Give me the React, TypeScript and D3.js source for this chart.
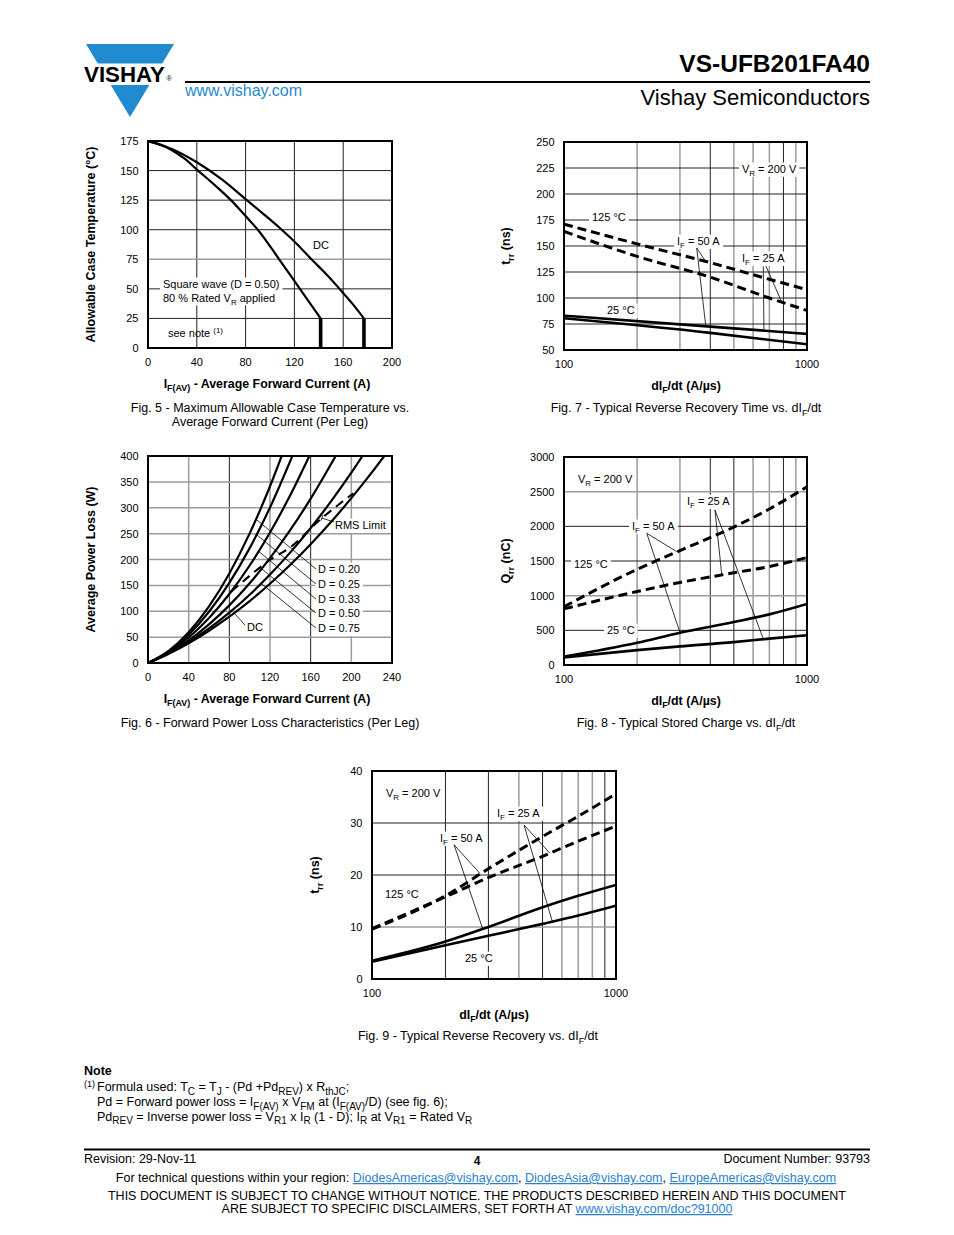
import React from 'react';
import * as d3 from 'd3';

type Pt = [number, number];
type Part = { t: string; sub?: boolean; sup?: boolean };

const FONT = "'Liberation Sans', Arial, Helvetica, sans-serif";
const BLUE = '#1f8ad0';
const LINK = '#2a7fcf';

// ---------------- Fig. 5 data ----------------
const fig5XTicks = [0, 40, 80, 120, 160, 200];
const fig5YTicks = [0, 25, 50, 75, 100, 125, 150, 175];
const fig5SquareWave: Pt[] = [[0, 175], [10, 172], [20, 167], [30, 160], [41, 150], [55, 137.5], [68, 125], [80, 111.5], [90, 100], [107.5, 75], [124.5, 50], [141.5, 25]];
const fig5SquareWaveDrop: Pt[] = [[141.5, 25], [141.5, 0]];
const fig5DC: Pt[] = [[0, 175], [20, 168], [40, 157], [60, 143], [81, 125], [95, 113], [109.6, 100], [122, 88], [134, 75], [146, 62.5], [157, 50], [167.5, 37.5], [177, 25]];
const fig5DCDrop: Pt[] = [[177, 25], [177, 0]];

// ---------------- Fig. 6 data ----------------
const fig6XTicks = [0, 40, 80, 120, 160, 200, 240];
const fig6YTicks = [0, 50, 100, 150, 200, 250, 300, 350, 400];
const fig6D020: Pt[] = [[0, 0], [20, 22.8], [40, 59.3], [60, 109.4], [80, 173.1], [100, 250.5], [120, 341.5], [131.5, 400]];
const fig6D025: Pt[] = [[0, 0], [20, 21.7], [40, 54.7], [60, 99.1], [80, 154.9], [100, 222], [120, 300.5], [142, 400]];
const fig6D033: Pt[] = [[0, 0], [20, 20.3], [40, 49.3], [60, 87], [80, 133.4], [100, 188.4], [120, 252.1], [140, 324.5], [158.7, 400]];
const fig6D050: Pt[] = [[0, 0], [20, 19], [40, 43.8], [60, 74.7], [80, 111.4], [100, 154], [120, 202.6], [140, 257.1], [160, 317.5], [184.6, 400]];
const fig6D075: Pt[] = [[0, 0], [20, 18.1], [40, 40.3], [60, 66.7], [80, 97.2], [100, 131.9], [120, 170.8], [140, 213.8], [160, 260.9], [180, 312.3], [200, 367.7], [211, 400]];
const fig6DC: Pt[] = [[0, 0], [20, 17.6], [40, 38.3], [60, 62.3], [80, 89.4], [100, 119.6], [120, 153.1], [140, 189.7], [160, 229.5], [180, 272.4], [200, 318.6], [220, 367.9], [232.4, 400]];
const fig6RMSLimit: Pt[] = [[82, 138], [120, 199], [141, 225], [167, 273], [202, 328]];
const fig6DutyLabels = ['D = 0.20', 'D = 0.25', 'D = 0.33', 'D = 0.50', 'D = 0.75'];

// ---------------- Fig. 7 data ----------------
const fig7XTicks = [100, 1000];
const fig7YTicks = [50, 75, 100, 125, 150, 175, 200, 225, 250];
const fig7Hot50A: Pt[] = [[100, 171], [200, 152], [400, 134], [700, 118], [1000, 108]];
const fig7Hot25A: Pt[] = [[100, 164], [200, 140], [400, 120], [700, 100], [1000, 88]];
const fig7Room50A: Pt[] = [[100, 83], [400, 72.5], [1000, 65.5]];
const fig7Room25A: Pt[] = [[100, 80.5], [400, 66.5], [1000, 55.5]];

// ---------------- Fig. 8 data ----------------
const fig8XTicks = [100, 1000];
const fig8YTicks = [0, 500, 1000, 1500, 2000, 2500, 3000];
const fig8Hot50A: Pt[] = [[100, 840], [200, 1380], [300, 1650], [500, 1990], [700, 2250], [1000, 2570]];
const fig8Hot25A: Pt[] = [[100, 810], [200, 1060], [300, 1190], [500, 1330], [700, 1420], [1000, 1550]];
const fig8Room50A: Pt[] = [[100, 120], [200, 320], [300, 465], [500, 620], [700, 730], [1000, 880]];
const fig8Room25A: Pt[] = [[100, 110], [200, 215], [300, 268], [500, 330], [700, 380], [1000, 430]];

// ---------------- Fig. 9 data ----------------
const fig9XTicks = [100, 1000];
const fig9YTicks = [0, 10, 20, 30, 40];
const fig9Hot50A: Pt[] = [[100, 9.6], [200, 16], [300, 21.2], [500, 27.4], [700, 31.3], [1000, 35.6]];
const fig9Hot25A: Pt[] = [[100, 9.7], [200, 15.8], [300, 19.5], [500, 23.6], [700, 26.5], [1000, 29.4]];
const fig9Room50A: Pt[] = [[100, 3.5], [200, 7.2], [300, 10], [500, 13.8], [700, 16], [1000, 18.1]];
const fig9Room25A: Pt[] = [[100, 3.3], [200, 6.5], [300, 8.3], [500, 10.6], [700, 12.2], [1000, 14.1]];

const logMinor = [200, 300, 400, 500, 600, 700, 800, 900];

// ---------------- helpers ----------------
const T = (t: string): Part => ({ t });
const S = (t: string): Part => ({ t, sub: true });
const U = (t: string): Part => ({ t, sup: true });

let measureCtx: CanvasRenderingContext2D | null = null;
function measure(parts: Part[], size: number, weight = 'normal') {
  if (!measureCtx) measureCtx = document.createElement('canvas').getContext('2d');
  let w = 0;
  for (const p of parts) {
    const s = p.sub || p.sup ? size * 0.72 : size;
    measureCtx!.font = `${weight} ${s}px ${FONT}`;
    w += measureCtx!.measureText(p.t).width;
  }
  return w;
}

function RichText(props: {
  x: number; y: number; parts: Part[]; size: number; anchor?: string; weight?: string; fill?: string; rotate?: boolean; subScale?: number;
}) {
  const { x, y, parts, size, anchor = 'start', weight = 'normal', fill = '#000', rotate, subScale = 0.72 } = props;
  let off = 0;
  const kids = parts.map((p, i) => {
    const target = p.sub ? size * 0.28 : p.sup ? -size * 0.38 : 0;
    const dy = target - off;
    off = target;
    return (
      <tspan key={i} dy={dy} fontSize={p.sub || p.sup ? size * subScale : size}>{p.t}</tspan>
    );
  });
  return (
    <text x={x} y={y} fontSize={size} fontFamily={FONT} fontWeight={weight} textAnchor={anchor as any} fill={fill}
      style={{ whiteSpace: 'pre' }} transform={rotate ? `rotate(-90 ${x} ${y})` : undefined}>
      {kids}
    </text>
  );
}

interface SeriesDef { data: Pt[]; dashed?: boolean; width?: number; dash?: string; straight?: boolean }
interface LabelDef { x: number; y: number; parts: Part[]; bg?: boolean }
interface PlotProps {
  id: string;
  box: { x: number; y: number; w: number; h: number };
  log?: boolean;
  xDomain: [number, number]; yDomain: [number, number];
  xGrid: number[]; yGrid: number[];
  darkX?: number[]; darkY?: number[];
  xTicks: number[]; yTicks: number[];
  series: SeriesDef[];
  leaders?: Pt[][];
  labels?: LabelDef[];
  yTitle: Part[]; yTitleX: number;
  xTitle: Part[]; xTitleY: number; xTitleX: number;
  captions: { parts: Part[]; y: number }[]; captionX: number;
}

function Plot(p: PlotProps) {
  const { box } = p;
  const sx: any = p.log
    ? d3.scaleLog().domain(p.xDomain).range([box.x, box.x + box.w])
    : d3.scaleLinear().domain(p.xDomain).range([box.x, box.x + box.w]);
  const sy = d3.scaleLinear().domain(p.yDomain).range([box.y + box.h, box.y]);
  const smooth = d3.line<Pt>().x(d => sx(d[0])).y(d => sy(d[1])).curve(d3.curveMonotoneX);
  const straight = d3.line<Pt>().x(d => sx(d[0])).y(d => sy(d[1]));
  const LS = 11;
  const gridColor = (dark: boolean) => (dark ? '#222' : '#9c9c9c');
  return (
    <g>
      <defs>
        <clipPath id={`clip-${p.id}`}>
          <rect x={box.x} y={box.y} width={box.w} height={box.h} />
        </clipPath>
      </defs>
      {p.xGrid.map(v => {
        const dark = (p.darkX || []).includes(v);
        return <line key={`gx${v}`} x1={sx(v)} x2={sx(v)} y1={box.y} y2={box.y + box.h}
          stroke={gridColor(dark)} strokeWidth={dark ? 1 : 1.5} />;
      })}
      {p.yGrid.map(v => {
        const dark = (p.darkY || []).includes(v);
        return <line key={`gy${v}`} x1={box.x} x2={box.x + box.w} y1={sy(v)} y2={sy(v)}
          stroke={gridColor(dark)} strokeWidth={dark ? 1 : 1.5} />;
      })}
      {(p.labels || []).filter(l => l.bg).map((l, i) => {
        const w = measure(l.parts, LS);
        return <rect key={`bg${i}`} x={l.x - 3} y={l.y - LS * 0.95} width={w + 6} height={LS * 1.3} fill="#fff" />;
      })}
      <g clipPath={`url(#clip-${p.id})`}>
        {p.series.map((s, i) => (
          <path key={`s${i}`} d={(s.straight ? straight : smooth)(s.data) || ''} fill="none" stroke="#000"
            strokeWidth={s.width ?? 2.4} strokeDasharray={s.dashed ? (s.dash || '9,5') : undefined} />
        ))}
      </g>
      {(p.leaders || []).map((l, i) => (
        <path key={`l${i}`} d={straight(l) || ''} fill="none" stroke="#000" strokeWidth={0.8} />
      ))}
      {(p.labels || []).map((l, i) => (
        <RichText key={`t${i}`} x={l.x} y={l.y} parts={l.parts} size={LS} />
      ))}
      <rect x={box.x} y={box.y} width={box.w} height={box.h} fill="none" stroke="#000" strokeWidth={2} />
      {p.yTicks.map(v => (
        <text key={`yt${v}`} x={box.x - 9.5} y={sy(v) + 4} fontSize={LS} fontFamily={FONT} textAnchor="end">{v}</text>
      ))}
      {p.xTicks.map(v => (
        <text key={`xt${v}`} x={sx(v)} y={box.y + box.h + 18} fontSize={LS} fontFamily={FONT} textAnchor="middle">{v}</text>
      ))}
      <RichText x={p.yTitleX} y={box.y + box.h / 2} parts={p.yTitle} size={12.5} weight="bold" anchor="middle" rotate />
      <RichText x={p.xTitleX} y={p.xTitleY} parts={p.xTitle} size={12.4} weight="bold" anchor="middle" />
      {p.captions.map((c, i) => (
        <RichText key={`c${i}`} x={p.captionX} y={c.y} parts={c.parts} size={12.5} anchor="middle" />
      ))}
    </g>
  );
}

function Header() {
  return (
    <g>
      <polygon points="86,44 174,44 130,117" fill={BLUE} />
      <rect x={80} y={63.5} width={100} height={21.5} fill="#fff" />
      <text x={84} y={81.7} fontSize={21.5} fontWeight="bold" fontFamily={FONT} textLength={81} lengthAdjust="spacingAndGlyphs">VISHAY</text>
      <text x={166.5} y={81} fontSize={7} fontFamily={FONT}>®</text>
      <text x={185} y={96} fontSize={16} fontFamily={FONT} fill={BLUE}>www.vishay.com</text>
      <line x1={185} x2={870} y1={82} y2={82} stroke="#000" strokeWidth={2} />
      <text x={870} y={72} fontSize={24.5} fontWeight="bold" fontFamily={FONT} textAnchor="end">VS-UFB201FA40</text>
      <text x={870} y={105} fontSize={22} fontFamily={FONT} textAnchor="end">Vishay Semiconductors</text>
    </g>
  );
}

function Notes() {
  const sz = 12.5;
  return (
    <g>
      <text x={84} y={1075} fontSize={12.5} fontWeight="bold" fontFamily={FONT}>Note</text>
      <text x={84} y={1087} fontSize={9} fontFamily={FONT}>(1)</text>
      <RichText x={97} y={1091} size={sz} subScale={0.8}
        parts={[T('Formula used: T'), S('C'), T(' = T'), S('J'), T(' - (Pd +Pd'), S('REV'), T(') x R'), S('thJC'), T(';')]} />
      <RichText x={97} y={1106} size={sz} subScale={0.8}
        parts={[T('Pd = Forward power loss = I'), S('F(AV)'), T(' x V'), S('FM'), T(' at (I'), S('F(AV)'), T('/D) (see fig. 6);')]} />
      <RichText x={97} y={1120.5} size={sz} subScale={0.8}
        parts={[T('Pd'), S('REV'), T(' = Inverse power loss = V'), S('R1'), T(' x I'), S('R'), T(' (1 - D); I'), S('R'), T(' at V'), S('R1'), T(' = Rated V'), S('R')]} />
    </g>
  );
}

function Footer() {
  const sz = 12.5;
  const link = { fill: LINK, style: { textDecoration: 'underline' } } as any;
  return (
    <g fontFamily={FONT} fontSize={sz}>
      <line x1={84} x2={870} y1={1149.5} y2={1149.5} stroke="#000" strokeWidth={2} />
      <text x={84} y={1163}>Revision: 29-Nov-11</text>
      <text x={477} y={1165} textAnchor="middle" fontWeight="bold" fontSize={12}>4</text>
      <text x={870} y={1163} textAnchor="end">Document Number: 93793</text>
      <text x={476} y={1182} textAnchor="middle" style={{ whiteSpace: 'pre' }}>
        <tspan>For technical questions within your region: </tspan>
        <tspan {...link}>DiodesAmericas@vishay.com</tspan>
        <tspan>, </tspan>
        <tspan {...link}>DiodesAsia@vishay.com</tspan>
        <tspan>, </tspan>
        <tspan {...link}>EuropeAmericas@vishay.com</tspan>
      </text>
      <text x={477} y={1200} textAnchor="middle">THIS DOCUMENT IS SUBJECT TO CHANGE WITHOUT NOTICE. THE PRODUCTS DESCRIBED HEREIN AND THIS DOCUMENT</text>
      <text x={477} y={1213} textAnchor="middle" style={{ whiteSpace: 'pre' }}>
        <tspan>ARE SUBJECT TO SPECIFIC DISCLAIMERS, SET FORTH AT </tspan>
        <tspan {...link}>www.vishay.com/doc?91000</tspan>
      </text>
    </g>
  );
}

export default function App() {
  const ifav = [T('I'), S('F(AV)'), T(' - Average Forward Current (A)')];
  const didt = [T('dI'), S('F'), T('/dt (A/\u00B5s)')];
  const trr = [T('t'), S('rr'), T(' (ns)')];
  const vr = [T('V'), S('R'), T(' = 200 V')];
  const if50 = [T('I'), S('F'), T(' = 50 A')];
  const if25 = [T('I'), S('F'), T(' = 25 A')];
  const hot = [T('125 \u00B0C')];
  const room = [T('25 \u00B0C')];

  const fig6Leaders: Pt[][] = [
    [[165.2, 181.6], [106.3, 277.7]],
    [[165.2, 152.7], [106.9, 247.8]],
    [[165.2, 123.7], [108.9, 215.7]],
    [[165.2, 96.6], [111.8, 181.9]],
    [[165.2, 67.6], [111.4, 153.5]],
    [[95.4, 73.4], [84.9, 96]],
    [[183, 272.5], [171, 280]],
    [[172.1, 285.6], [170.1, 274.8]],
  ];

  return (
    <svg width={954} height={1235} viewBox="0 0 954 1235" style={{ position: 'absolute', left: 0, top: 0, background: '#fff' }}>
      <rect width={954} height={1235} fill="#fff" />
      <Header />

      {/* Fig. 5 */}
      <Plot id="f5" box={{ x: 148, y: 141, w: 244, h: 207 }}
        xDomain={[0, 200]} yDomain={[0, 175]}
        xGrid={[40, 80, 120, 160]} yGrid={[25, 50, 75, 100, 125, 150]}
        darkX={[40, 80, 120, 160]} darkY={[25, 50, 100, 125, 150]}
        xTicks={fig5XTicks} yTicks={fig5YTicks}
        series={[
          { data: fig5SquareWave, width: 2.2 },
          { data: fig5DC, width: 2.2 },
          { data: fig5SquareWaveDrop, width: 3.6, straight: true },
          { data: fig5DCDrop, width: 3.6, straight: true },
        ]}
        labels={[
          { x: 313, y: 249, parts: [T('DC')] },
          { x: 163, y: 288, parts: [T('Square wave (D = 0.50)')], bg: true },
          { x: 163, y: 301.5, parts: [T('80 % Rated V'), S('R'), T(' applied')], bg: true },
          { x: 168, y: 337, parts: [T('see note '), U('(1)')] },
        ]}
        yTitle={[T('Allowable Case Temperature (\u00B0C)')]} yTitleX={95}
        xTitle={ifav} xTitleY={388} xTitleX={267}
        captions={[
          { parts: [T('Fig. 5 - Maximum Allowable Case Temperature vs.')], y: 412 },
          { parts: [T('Average Forward Current (Per Leg)')], y: 426 },
        ]} captionX={270}
      />

      {/* Fig. 7 */}
      <Plot id="f7" box={{ x: 564, y: 142, w: 243, h: 208 }} log
        xDomain={[100, 1000]} yDomain={[50, 250]}
        xGrid={logMinor} yGrid={[75, 100, 125, 150, 175, 200, 225]}
        darkX={[400, 800]} darkY={[75, 100, 125, 150, 175, 200, 225]}
        xTicks={fig7XTicks} yTicks={fig7YTicks}
        series={[
          { data: fig7Hot50A, dashed: true, width: 3 },
          { data: fig7Hot25A, dashed: true, width: 3 },
          { data: fig7Room50A, width: 2.6 },
          { data: fig7Room25A, width: 2.6 },
        ]}
        leaders={[
          [[351.6, 148.1], [386.5, 133.7]],
          [[351.6, 148.1], [383.4, 72.8]],
          [[661, 130.5], [665, 68.6]],
          [[678, 130.5], [787, 96.1]],
        ]}
        labels={[
          { x: 742, y: 173, parts: vr, bg: true },
          { x: 592, y: 221, parts: hot, bg: true },
          { x: 677, y: 245, parts: if50, bg: true },
          { x: 742, y: 262, parts: if25, bg: true },
          { x: 607, y: 314, parts: room, bg: true },
        ]}
        yTitle={trr} yTitleX={510}
        xTitle={didt} xTitleY={390} xTitleX={686}
        captions={[{ parts: [T('Fig. 7 - Typical Reverse Recovery Time vs. dI'), S('F'), T('/dt')], y: 412 }]} captionX={686}
      />

      {/* Fig. 6 */}
      <Plot id="f6" box={{ x: 148, y: 456, w: 244, h: 207 }}
        xDomain={[0, 240]} yDomain={[0, 400]}
        xGrid={[40, 80, 120, 160, 200]} yGrid={[50, 100, 150, 200, 250, 300, 350]}
        darkX={[80, 160]} darkY={[]}
        xTicks={fig6XTicks} yTicks={fig6YTicks}
        series={[
          { data: fig6D020, width: 2.2 },
          { data: fig6D025, width: 2.2 },
          { data: fig6D033, width: 2.2 },
          { data: fig6D050, width: 2.2 },
          { data: fig6D075, width: 2.2 },
          { data: fig6DC, width: 2.2 },
          { data: fig6RMSLimit, width: 2, dashed: true, dash: '9,6' },
        ]}
        leaders={fig6Leaders}
        labels={[
          { x: 335, y: 529, parts: [T('RMS Limit')], bg: true },
          ...fig6DutyLabels.map((d, i) => ({ x: 318, y: 573 + i * 14.8, parts: [T(d)], bg: true })),
          { x: 247, y: 631, parts: [T('DC')], bg: true },
        ]}
        yTitle={[T('Average Power Loss (W)')]} yTitleX={95}
        xTitle={ifav} xTitleY={703} xTitleX={267}
        captions={[{ parts: [T('Fig. 6 - Forward Power Loss Characteristics (Per Leg)')], y: 727 }]} captionX={270}
      />

      {/* Fig. 8 */}
      <Plot id="f8" box={{ x: 564, y: 457, w: 243, h: 208 }} log
        xDomain={[100, 1000]} yDomain={[0, 3000]}
        xGrid={logMinor} yGrid={[500, 1000, 1500, 2000, 2500]}
        darkX={[400, 500, 800]} darkY={[500, 1500, 2000]}
        xTicks={fig8XTicks} yTicks={fig8YTicks}
        series={[
          { data: fig8Hot50A, dashed: true, width: 3 },
          { data: fig8Hot25A, dashed: true, width: 3 },
          { data: fig8Room50A, width: 2.6 },
          { data: fig8Room25A, width: 2.6 },
        ]}
        leaders={[
          [[219, 1900], [291, 1635]],
          [[219, 1900], [300, 470]],
          [[418, 2236], [446, 1299]],
          [[418, 2236], [661, 375]],
        ]}
        labels={[
          { x: 578, y: 483, parts: vr, bg: true },
          { x: 687, y: 505, parts: if25, bg: true },
          { x: 632, y: 530, parts: if50, bg: true },
          { x: 574, y: 568, parts: hot, bg: true },
          { x: 607, y: 634, parts: room, bg: true },
        ]}
        yTitle={[T('Q'), S('rr'), T(' (nC)')]} yTitleX={510}
        xTitle={didt} xTitleY={705} xTitleX={686}
        captions={[{ parts: [T('Fig. 8 - Typical Stored Charge vs. dI'), S('F'), T('/dt')], y: 727 }]} captionX={686}
      />

      {/* Fig. 9 */}
      <Plot id="f9" box={{ x: 372, y: 771, w: 244, h: 208 }} log
        xDomain={[100, 1000]} yDomain={[0, 40]}
        xGrid={logMinor} yGrid={[10, 20, 30]}
        darkX={[200, 300, 500, 900]} darkY={[20, 30]}
        xTicks={fig9XTicks} yTicks={fig9YTicks}
        series={[
          { data: fig9Hot50A, dashed: true, width: 3 },
          { data: fig9Hot25A, dashed: true, width: 3 },
          { data: fig9Room50A, width: 2.6 },
          { data: fig9Room25A, width: 2.6 },
        ]}
        leaders={[
          [[217, 25.8], [277, 20.3]],
          [[217, 25.8], [284, 9.7]],
          [[420, 29.6], [536, 24.2]],
          [[420, 29.6], [548, 11.1]],
        ]}
        labels={[
          { x: 386, y: 797, parts: vr, bg: true },
          { x: 497, y: 817, parts: if25, bg: true },
          { x: 440, y: 842, parts: if50, bg: true },
          { x: 385, y: 898, parts: hot, bg: true },
          { x: 465, y: 962, parts: room, bg: true },
        ]}
        yTitle={trr} yTitleX={319}
        xTitle={didt} xTitleY={1019} xTitleX={494}
        captions={[{ parts: [T('Fig. 9 - Typical Reverse Recovery vs. dI'), S('F'), T('/dt')], y: 1040 }]} captionX={478}
      />

      <Notes />
      <Footer />
    </svg>
  );
}
